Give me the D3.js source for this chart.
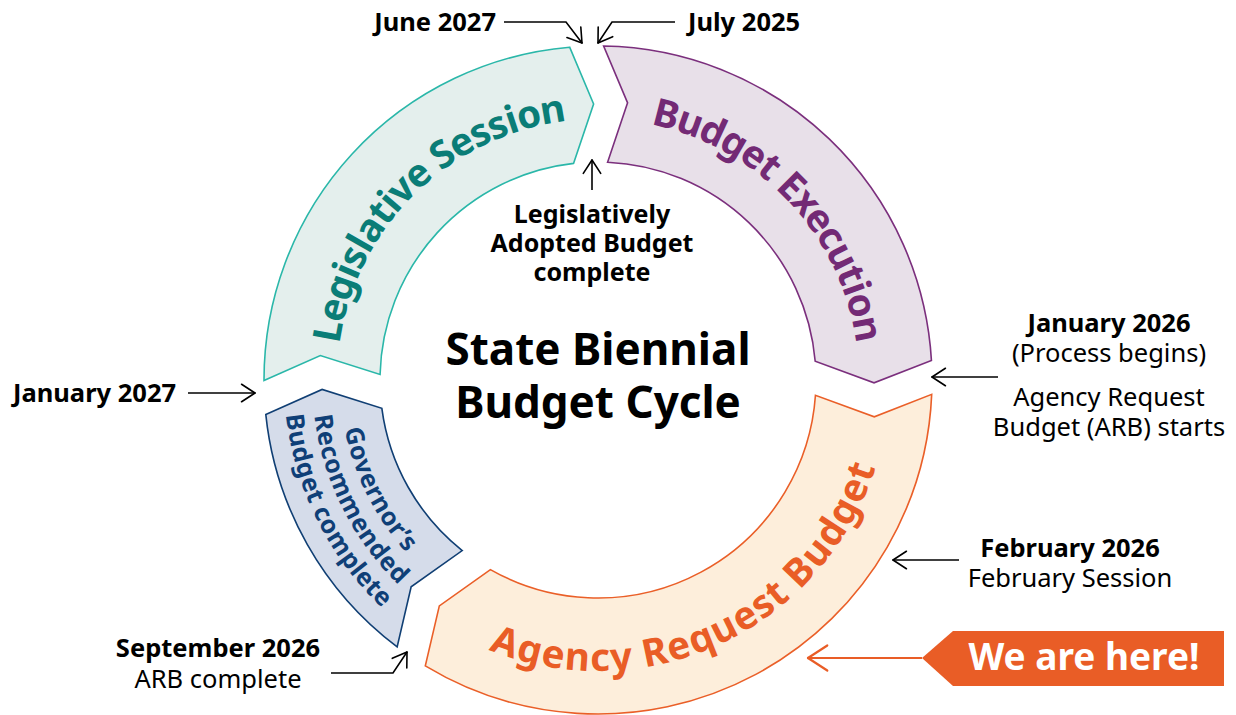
<!DOCTYPE html>
<html>
<head>
<meta charset="utf-8">
<script src="https://cdn.jsdelivr.net/npm/d3@7"></script>
<style>
  body { margin: 0; background: #fff; }
  svg text { font-family: "Noto Sans", "Open Sans", sans-serif; }
</style>
</head>
<body>
<svg id="chart"></svg>
<script>
// cycle data: months counted from July 2025 (24 month biennium)
var cycleMonths = 24;
var phaseNames = ["Budget Execution", "Agency Request Budget", "Governor\u2019s Recommended Budget complete", "Legislative Session"];
var phaseLines = [["Budget Execution"], ["Agency Request Budget"], ["Governor\u2019s", "Recommended", "Budget complete"], ["Legislative Session"]];
var phaseStart = [-0.13, 5.97, 14.27, 17.8];
var phaseEnd = [5.97, 14.27, 17.8, 23.87];
var phaseFill = ["#e8e0e9", "#fdeedb", "#d5dcea", "#e4efed"];
var phaseStroke = ["#7b2f7d", "#ea5f28", "#103f74", "#2ab7a9"];
var phaseText = ["#732a75", "#e95d26", "#0f3f77", "#0a7d77"];

var milestoneDates = ["July 2025", "June 2027", "January 2026", "February 2026", "September 2026", "January 2027"];
var milestoneNotes = [[], [], ["(Process begins)", "Agency Request", "Budget (ARB) starts"], ["February Session"], ["ARB complete"], []];

var W = 1236, H = 715;
var cx = 598, cy = 380, rIn = 218, rOut = 334, rMid = 276, gap = 17, tip = 22;

var svg = d3.select("#chart").attr("width", W).attr("height", H);

var angle = d3.scaleLinear().domain([0, cycleMonths]).range([0, 2 * Math.PI]);

function polar(r, a) { return [cx + r * Math.sin(a), cy - r * Math.cos(a)]; }
// point at radial distance r along a cut line, shifted d px clockwise
function cutPoint(r, a, d) {
  return [cx + r * Math.sin(a) + d * Math.cos(a), cy - r * Math.cos(a) + d * Math.sin(a)];
}

function segmentPath(a0, a1) {
  var p = d3.path();
  var o0 = a0 + Math.asin(gap / rOut), o1 = a1 - Math.asin(gap / rOut);
  var i0 = a0 + Math.asin(gap / rIn), i1 = a1 - Math.asin(gap / rIn);
  var s = polar(rOut, o0);
  p.moveTo(s[0], s[1]);
  p.arc(cx, cy, rOut, o0 - Math.PI / 2, o1 - Math.PI / 2, false);
  var t = cutPoint(rMid, a1, -gap + tip);
  p.lineTo(t[0], t[1]);
  var e = polar(rIn, i1);
  p.lineTo(e[0], e[1]);
  p.arc(cx, cy, rIn, i1 - Math.PI / 2, i0 - Math.PI / 2, true);
  var n = cutPoint(rMid, a0, gap + tip);
  p.lineTo(n[0], n[1]);
  p.closePath();
  return p.toString();
}

// arc used for the text, clockwise on top, anticlockwise on bottom
function textArc(r, c, clockwise) {
  var span = 80 * Math.PI / 180;
  var a0 = clockwise ? c - span : c + span;
  var a1 = clockwise ? c + span : c - span;
  var p = d3.path();
  var s = polar(r, a0);
  p.moveTo(s[0], s[1]);
  p.arc(cx, cy, r, a0 - Math.PI / 2, a1 - Math.PI / 2, !clockwise);
  return p.toString();
}

var defs = svg.append("defs");
var textShift = 3 * Math.PI / 180;

phaseNames.forEach(function(name, i) {
  var a0 = angle(phaseStart[i]), a1 = angle(phaseEnd[i]);
  svg.append("path")
    .attr("d", segmentPath(a0, a1))
    .attr("fill", phaseFill[i])
    .attr("stroke", phaseStroke[i])
    .attr("stroke-width", 1.6)
    .attr("stroke-linejoin", "miter");

  var c = (a0 + a1) / 2 + textShift;
  var cw = !(c > Math.PI * 0.55 && c < Math.PI * 1.45);
  var lines = phaseLines[i];
  var big = lines.length == 1;
  lines.forEach(function(line, j) {
    var r = big ? rMid : rMid - 28 + 28 * j;
    var id = "arc" + i + "_" + j;
    defs.append("path").attr("id", id).attr("d", textArc(r, c, cw));
    svg.append("text")
      .attr("fill", phaseText[i])
      .style("font-size", big ? "38.5px" : "25px")
      .style("font-weight", "bold")
      .attr("dominant-baseline", "central")
      .append("textPath")
      .attr("href", "#" + id)
      .attr("startOffset", "50%")
      .attr("text-anchor", "middle")
      .text(line);
  });
});

// centre title
svg.append("text")
  .attr("x", cx).attr("text-anchor", "middle")
  .style("font-size", "44px").style("font-weight", "bold").attr("fill", "#000")
  .selectAll("tspan").data(["State Biennial", "Budget Cycle"]).enter()
  .append("tspan").attr("x", cx).attr("y", function(d, i) { return 365 + i * 53; })
  .text(function(d) { return d; });

// arrows
function arrowHead(g, tipX, tipY, fromX, fromY, len, color, w) {
  var dx = tipX - fromX, dy = tipY - fromY, L = Math.sqrt(dx * dx + dy * dy);
  dx /= L; dy /= L;
  var ang = 33 * Math.PI / 180;
  [-ang, ang].forEach(function(a) {
    var rx = dx * Math.cos(a) - dy * Math.sin(a), ry = dx * Math.sin(a) + dy * Math.cos(a);
    g.append("line")
      .attr("x1", tipX).attr("y1", tipY)
      .attr("x2", tipX - rx * len).attr("y2", tipY - ry * len)
      .attr("stroke", color).attr("stroke-width", w).attr("stroke-linecap", "round");
  });
}
function arrow(pts, color, w, len) {
  var g = svg.append("g");
  g.append("path").attr("d", d3.line()(pts)).attr("fill", "none")
    .attr("stroke", color).attr("stroke-width", w);
  var n = pts.length;
  arrowHead(g, pts[n - 1][0], pts[n - 1][1], pts[n - 2][0], pts[n - 2][1], len, color, w);
}

arrow([[504, 22], [566, 22], [582, 43]], "#000", 1.6, 16);
arrow([[675, 22], [612, 22], [598, 43]], "#000", 1.6, 16);
arrow([[592, 190], [592, 160]], "#000", 1.6, 16);
arrow([[188, 393], [255, 393]], "#000", 1.6, 16);
arrow([[998, 377], [932, 377]], "#000", 1.6, 16);
arrow([[959, 560], [893, 560]], "#000", 1.6, 16);
arrow([[331, 673], [393, 673], [407, 652]], "#000", 1.6, 16);
arrow([[922, 658], [808, 658]], "#e95d26", 2.2, 23);

// labels
function label(x, y, anchor, lines, step) {
  var t = svg.append("text").attr("text-anchor", anchor).attr("fill", "#000").style("font-size", "25.5px");
  lines.forEach(function(l, i) {
    t.append("tspan").attr("x", x).attr("y", y + (l.dy || 0) + i * step)
      .style("font-weight", l.bold ? "bold" : "normal").text(l.text);
  });
}
function mLines(k) {
  return [{ text: milestoneDates[k], bold: true }].concat(milestoneNotes[k].map(function(s) { return { text: s }; }));
}
label(688, 31, "start", mLines(0), 30);
label(496, 31, "end", mLines(1), 30);
var jan26 = mLines(2);
jan26[2].dy = 14; jan26[3].dy = 14;
label(1109, 332, "middle", jan26, 30);
label(1070, 557, "middle", mLines(3), 30);
label(218, 657, "middle", mLines(4), 31);
label(13, 402, "start", mLines(5), 30);

var lab = svg.append("text").attr("text-anchor", "middle").attr("fill", "#000")
  .style("font-size", "25px").style("font-weight", "bold");
["Legislatively", "Adopted Budget", "complete"].forEach(function(s, i) {
  lab.append("tspan").attr("x", 592).attr("y", 223 + i * 29).text(s);
});

// "We are here!" badge
svg.append("path")
  .attr("d", d3.line()([[922, 658], [953, 631], [1224, 631], [1224, 686], [953, 686]]) + "Z")
  .attr("fill", "#e95d26");
svg.append("text").attr("x", 1084).attr("y", 670).attr("text-anchor", "middle")
  .attr("fill", "#fff").style("font-size", "37px").style("font-weight", "bold")
  .text("We are here!");
</script>
</body>
</html>
